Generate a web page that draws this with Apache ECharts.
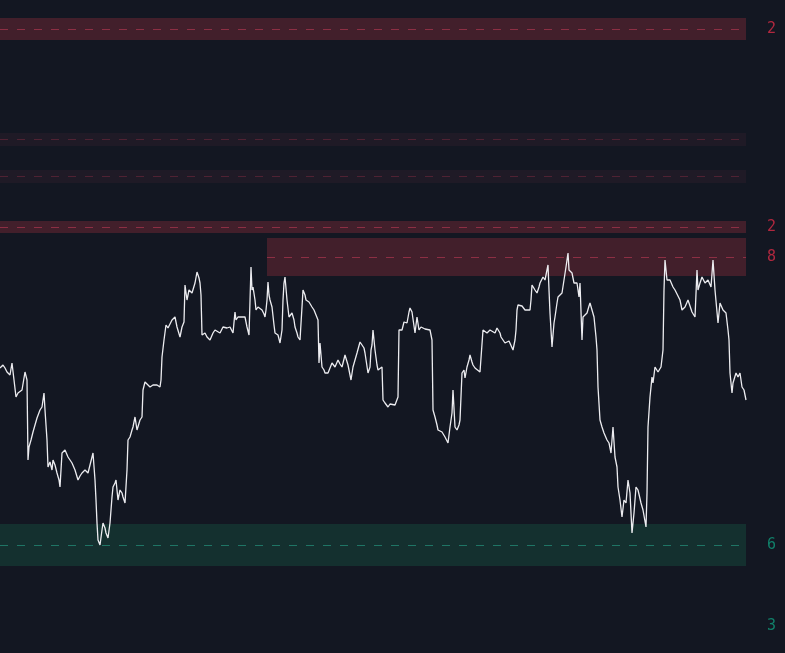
<!DOCTYPE html>
<html><head><meta charset="utf-8">
<script src="https://cdn.jsdelivr.net/npm/echarts@6/dist/echarts.min.js"></script>
<style>html,body{margin:0;padding:0;background:#131722;}#c{width:785px;height:653px;}</style>
</head><body><div id="c"></div>
<script>
// bar index (time) and price
const bars = [
0,3,5,7,10,12,14,16,18,20,22,25,27,
28,29,31,33,35,37,40,42,44,45,47,48,50,52,53,55,57,59,60,62,65,68,70,72,75,78,80,82,85,88,90,92,93,
95,96,97,98,100,102,103,105,106,108,110,112,113,115,116,118,120,122,123,125,
127,128,130,132,133,135,137,140,142,
143,145,147,150,153,157,160,161,162,164,166,168,170,172,175,177,180,182,184,
185,187,189,192,195,197,199,200,201,
202,203,205,207,210,213,215,217,220,223,225,227,230,233,
235,236,238,240,242,245,247,249,250,
251,252,253,255,256,258,260,262,264,265,266,267,268,269,270,272,274,275,277,278,280,282,283,284,285,287,289,290,292,294,295,297,298,300,302,303,305,306,309,312,314,316,318,
319,320,322,324,325,328,330,332,335,338,340,342,345,348,351,353,355,357,360,362,364,365,368,370,371,372,
373,375,377,378,380,382,383,385,388,390,392,395,398,
399,401,402,404,405,407,409,410,412,413,415,417,419,421,423,425,427,430,432,
433,435,437,438,440,442,445,448,450,452,453,455,457,459,460,462,464,465,467,469,470,472,473,475,477,480,482,
483,485,487,488,490,492,495,497,498,500,501,503,505,507,509,510,513,515,516,517,518,520,522,523,525,527,530,531,532,534,535,537,539,540,543,545,546,548,549,550,552,554,555,557,558,560,562,564,566,568,569,571,572,574,577,579,580,
582,583,585,587,589,590,592,594,596,597,598,600,602,604,607,609,611,613,615,617,618,620,622,624,626,628,630,632,634,636,638,641,643,646,647,
648,650,652,653,655,658,661,663,664,665,667,670,673,675,677,680,682,685,688,690,692,695,697,698,700,702,705,708,711,713,715,718,720,723,726,728,729,730,732,733,736,738,740,742,744,746
];
const prices = [
285,288,285,281,278,290,273,256,260,258,263,281,273,
193,206,213,221,228,235,243,246,260,243,213,186,191,183,193,188,180,173,166,200,203,196,193,190,183,173,177,180,183,180,188,196,200,
173,153,130,113,108,123,130,125,120,115,130,156,166,170,173,153,163,160,156,150,
183,213,216,223,226,236,223,233,236,
263,271,270,266,268,268,266,273,296,313,328,325,329,333,336,326,316,326,331,
368,353,363,360,370,381,375,370,358,
318,316,320,316,313,320,323,325,320,326,327,325,326,320,
341,333,336,338,336,336,326,318,316,
386,363,366,353,343,346,345,343,339,336,343,353,371,358,353,346,328,320,320,318,310,323,353,370,376,353,336,338,340,333,326,320,316,313,346,363,358,353,351,346,343,338,333,
290,310,286,283,280,280,285,290,286,293,289,286,298,288,273,286,293,300,311,313,305,300,280,286,303,308,
323,303,288,283,285,286,253,250,246,249,251,248,256,
323,325,323,331,333,330,341,345,341,340,320,336,323,326,325,324,325,323,313,
243,236,228,223,225,221,216,210,226,240,263,226,223,228,233,280,283,275,286,293,298,291,288,285,283,281,280,
323,323,320,321,323,325,320,325,326,320,316,313,310,308,312,310,303,313,323,343,348,348,347,345,343,341,343,353,368,370,363,360,366,370,376,373,371,388,363,340,306,330,336,350,356,358,360,373,386,400,383,381,380,370,370,356,370,
313,336,338,340,347,350,350,336,316,303,266,233,226,220,213,210,200,226,196,186,166,153,136,153,150,173,160,120,140,166,163,150,143,126,160,
226,256,276,270,286,281,286,303,363,393,373,373,366,363,363,353,343,346,353,347,341,336,383,363,370,376,370,373,366,393,363,330,350,343,340,323,313,280,260,270,280,276,280,266,263,253
];
// supply / demand zones
const zoneTop    = [635, 520, 483, 432, 415, 129];
const zoneBottom = [613, 507, 470, 420, 377,  87];
const zoneLevel  = [623.5, 513.5, 476.5, 425.5, 395.5, 107.5];
const zoneStart  = [  0,   0,   0,   0, 267,   0];
const zoneKind   = ['supply', 'weak', 'weak', 'supply', 'supply', 'demand'];
const zoneLabel  = ['2', '', '', '2', '8', '6'];
// extra price tag with no zone
const tagLevel = [26.5];
const tagLabel = ['3'];
const tagKind = ['demand'];

const xMax = 746;
const styles = {
  supply: {fill: '#421f2b', dash: '#8c2f44', text: '#b0283f'},
  weak:   {fill: '#1f1a26', dash: '#4f2233', text: '#b0283f'},
  demand: {fill: '#14302f', dash: '#1f7565', text: '#11806a'}
};

const areaData = zoneTop.map((t, i) => [
  {xAxis: zoneStart[i], yAxis: t, itemStyle: {color: styles[zoneKind[i]].fill}},
  {xAxis: xMax, yAxis: zoneBottom[i]}
]);
const labelFont = {fontFamily: 'DejaVu Sans Mono', fontSize: 15, position: 'end', distance: 21};
const lineData = zoneLevel.map((v, i) => [
  {xAxis: zoneStart[i], yAxis: v,
   lineStyle: {color: styles[zoneKind[i]].dash, type: [8, 9], width: 1},
   label: Object.assign({show: zoneLabel[i] !== '', formatter: zoneLabel[i], color: styles[zoneKind[i]].text}, labelFont)},
  {xAxis: xMax, yAxis: v}
]).concat(tagLevel.map((v, i) => [
  {xAxis: 0, yAxis: v, lineStyle: {color: 'rgba(0,0,0,0)', width: 1},
   label: Object.assign({show: true, formatter: tagLabel[i], color: styles[tagKind[i]].text}, labelFont)},
  {xAxis: xMax, yAxis: v}
]));

const chart = echarts.init(document.getElementById('c'), null, {renderer: 'canvas'});
chart.setOption({
  backgroundColor: '#131722',
  animation: false,
  grid: {left: 0, right: 39, top: 0, bottom: 0},
  xAxis: {type: 'value', min: 0, max: xMax, show: false},
  yAxis: {type: 'value', min: 0, max: 653, show: false},
  series: [
    {type: 'line', data: [], z: 1, silent: true,
     markArea: {silent: true, data: areaData},
     markLine: {silent: true, symbol: ['none', 'none'], data: lineData}},
    {type: 'line', z: 5, symbol: 'none', silent: true,
     data: bars.map((b, i) => [b, prices[i]]),
     lineStyle: {color: '#ececf0', width: 1.3}}
  ]
});
</script></body></html>
